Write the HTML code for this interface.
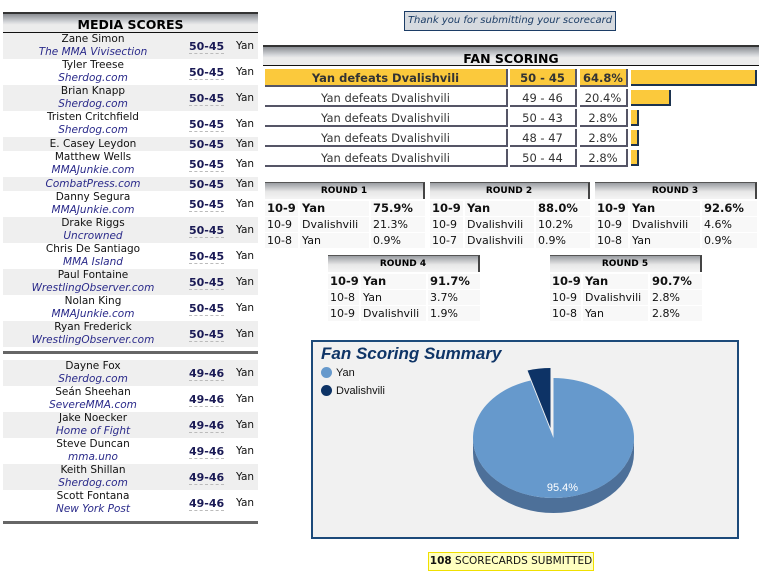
<!DOCTYPE html>
<html><head><meta charset="utf-8">
<style>
*{box-sizing:border-box;margin:0;padding:0}
body{width:771px;height:575px;background:#fff;position:relative;overflow:hidden;font-family:"DejaVu Sans","Liberation Sans",sans-serif;font-size:10.5px;color:#111}
.a{position:absolute}
.hdr{position:absolute;border-top:2px solid #333;border-bottom:1px solid #111;background:linear-gradient(#8a8d92,#d6d8db 45%,#ececec 60%,#ececec);font-weight:bold;text-align:center;color:#000}
.row{position:absolute;left:3px;width:255px;height:26px}
.nm{position:absolute;left:0;width:180px;text-align:center;line-height:13px;font-size:10.5px}
.pub{color:#2a2a8a;font-style:italic}
.sc{position:absolute;left:186px;font-weight:bold;color:#1a1a55;border-bottom:1px dashed #bbb;line-height:13px;font-size:11px}
.yn{position:absolute;left:233px;line-height:13px}
.fr{position:absolute;height:18px;line-height:18px;text-align:center;font-size:11.5px;color:#333;border-right:2px solid #556;border-bottom:2px solid #556}
.bar{position:absolute;height:16px;background:#fbc93c;border-right:2px solid #1c3350;border-bottom:2px solid #1c3350}
.rc{position:absolute;height:15px;line-height:15px;background:#f8f8f8;font-size:11px;padding-left:2px;color:#111}
</style></head><body>
<div class="hdr" style="left:3px;top:12px;width:255px;height:21px;line-height:22px;font-size:12.5px">MEDIA SCORES</div>
<div id="media"></div>
<div class="a" style="left:3px;top:351px;width:255px;height:3px;background:#666"></div>
<div class="a" style="left:3px;top:521px;width:255px;height:3px;background:#666"></div>

<div class="a" style="left:404px;top:11px;width:212px;height:20px;background:#d6dadf;border:1px solid #1c3d66;color:#1c3d66;font-style:italic;font-size:10px;line-height:18px;text-align:center">Thank you for submitting your scorecard</div>

<div class="hdr" style="left:263px;top:45px;width:496px;height:21px;line-height:24px;font-size:12.5px">FAN SCORING</div>
<div id="fan"></div>
<div id="rounds"></div>

<div class="a" style="left:311px;top:340px;width:428px;height:199px;background:#f1f1f1;border:2px solid #1c4a7a">
 <div class="a" style="left:8px;top:2px;font-family:'Liberation Sans',sans-serif;font-weight:bold;font-style:italic;font-size:17px;color:#0f3567">Fan Scoring Summary</div>
 <div class="a" style="left:8px;top:25px;font-family:'Liberation Sans',sans-serif;font-size:11px;line-height:12px"><span style="display:inline-block;width:11px;height:11px;border-radius:50%;background:#6699cc;vertical-align:-2px;margin-right:4px"></span>Yan</div>
 <div class="a" style="left:8px;top:43px;font-family:'Liberation Sans',sans-serif;font-size:11px;line-height:12px"><span style="display:inline-block;width:11px;height:11px;border-radius:50%;background:#0d3366;vertical-align:-2px;margin-right:4px"></span>Dvalishvili</div>
</div>
<svg id="pie" class="a" style="left:0;top:0" width="771" height="575"></svg>

<div class="a" style="left:428px;top:552px;width:166px;height:19px;background:#ffffc0;border:1px solid #f0e000;font-size:10.5px;line-height:17px;text-align:center"><b>108</b> SCORECARDS SUBMITTED</div>

<script>
const mediaNames=["Zane Simon","Tyler Treese","Brian Knapp","Tristen Critchfield","E. Casey Leydon","Matthew Wells","","Danny Segura","Drake Riggs","Chris De Santiago","Paul Fontaine","Nolan King","Ryan Frederick","Dayne Fox","Seán Sheehan","Jake Noecker","Steve Duncan","Keith Shillan","Scott Fontana"];
const mediaPubs=["The MMA Vivisection","Sherdog.com","Sherdog.com","Sherdog.com","","MMAJunkie.com","CombatPress.com","MMAJunkie.com","Uncrowned","MMA Island","WrestlingObserver.com","MMAJunkie.com","WrestlingObserver.com","Sherdog.com","SevereMMA.com","Home of Fight","mma.uno","Sherdog.com","New York Post"];
const mediaScores=["50-45","50-45","50-45","50-45","50-45","50-45","50-45","50-45","50-45","50-45","50-45","50-45","50-45","49-46","49-46","49-46","49-46","49-46","49-46"];
const media=document.getElementById('media');
let y=33,gi=0;
for(let i=0;i<mediaNames.length;i++){
  if(i===13){y=360;gi=1;}
  const two=mediaNames[i]&&mediaPubs[i];
  const h=two?26:14;
  const r=document.createElement('div');r.className='row';
  
  
  r.style.top=y+'px';r.style.height=h+'px';
  r.style.background=((i+gi)%2===0)?'#efefef':'#fff';
  let nm='';
  if(mediaNames[i])nm+=mediaNames[i];
  if(mediaNames[i]&&mediaPubs[i])nm+='<br>';
  if(mediaPubs[i])nm+='<span class="pub">'+mediaPubs[i]+'</span>';
  const mid=two?7:1;
  r.innerHTML='<div class="nm" style="top:'+(two?0:1)+'px">'+nm+'</div><div class="sc" style="top:'+mid+'px">'+mediaScores[i]+'</div><div class="yn" style="top:'+mid+'px">Yan</div>';
  media.appendChild(r);
  y+=h;
}
const fanScores=["50 - 45","49 - 46","50 - 43","48 - 47","50 - 44"];
const fanPcts=[64.8,20.4,2.8,2.8,2.8];
const fan=document.getElementById('fan');
function cell(cls,l,t,w,html,bg,bold){const d=document.createElement('div');d.className=cls;d.style.left=l+'px';d.style.top=t+'px';d.style.width=w+'px';d.innerHTML=html;if(bg)d.style.background=bg;if(bold){d.style.fontWeight='bold';d.style.color='#333';}fan.appendChild(d);return d;}
const barScale=126/Math.max(...fanPcts);
fanPcts.forEach((p,i)=>{
  const t=69+i*20, bg=i===0?'#fbc93c':'', b=i===0;
  let c=cell('fr',265,t,243,'Yan defeats Dvalishvili',bg,b);
  
  
  c=cell('fr',510,t,67,fanScores[i],bg,b);
  
  
  c=cell('fr',580,t,48,p.toFixed(1)+'%',bg,b);
  
  
  const br=document.createElement('div');br.className='bar';
  
  
  br.style.left='631px';br.style.top=(t+1)+'px';br.style.width=Math.max(p*barScale,8)+'px';
  fan.appendChild(br);
});
const roundTitles=["ROUND 1","ROUND 2","ROUND 3","ROUND 4","ROUND 5"];
const roundScores=[["10-9","10-9","10-8"],["10-9","10-9","10-7"],["10-9","10-9","10-8"],["10-9","10-8","10-9"],["10-9","10-9","10-8"]];
const roundFighters=[["Yan","Dvalishvili","Yan"],["Yan","Dvalishvili","Dvalishvili"],["Yan","Dvalishvili","Yan"],["Yan","Yan","Dvalishvili"],["Yan","Dvalishvili","Yan"]];
const roundPcts=[[75.9,21.3,0.9],[88.0,10.2,0.9],[92.6,4.6,0.9],[91.7,3.7,1.9],[90.7,2.8,2.8]];
const boxes=[[265,182,160],[430,182,160],[595,182,162],[328,255,152],[550,255,152]];
const rounds=document.getElementById('rounds');
roundTitles.forEach((tt,i)=>{
  const [l,t,w]=boxes[i];
  const h=document.createElement('div');h.className='hdr';
  
  
  h.style.cssText='left:'+l+'px;top:'+t+'px;width:'+w+'px;height:17px;line-height:17px;font-size:9px;border-top:1px solid #555;border-bottom:none;border-right:2px solid #444;background:linear-gradient(#9a9da2,#e8e8e8 55%,#f4f4f4)';
  h.textContent=tt;rounds.appendChild(h);
  const cw=Math.round(w*0.205), fw=Math.round(w*0.43);
  for(let r=0;r<3;r++){
    const ty=t+19+r*16;
    const vals=[roundScores[i][r],roundFighters[i][r],roundPcts[i][r].toFixed(1)+'%'];
    const xs=[l,l+cw+2,l+cw+fw+4], ws=[cw,fw,w-cw-fw-4];
    vals.forEach((v,k)=>{
      const c=document.createElement('div');c.className='rc';
      
      
      c.style.left=xs[k]+'px';c.style.top=ty+'px';c.style.width=ws[k]+'px';
      if(r===0){c.style.fontWeight='bold';c.style.fontSize='11.5px';}
      c.textContent=v;rounds.appendChild(c);
    });
  }
});
// pie
const pieLabels=["Yan","Dvalishvili"];
const pieValues=[95.4,4.6];
const svg=document.getElementById('pie');
const NS='http://www.w3.org/2000/svg';
const cx=553.5,cy=438,rx=80.5,ry=60,depth=15;
const total=pieValues.reduce((a,b)=>a+b,0);
function pt(a,ox,oy){return [cx+ox+rx*Math.sin(a),cy+oy-ry*Math.cos(a)];}
function mk(tag,attrs,name){const e=document.createElementNS(NS,tag);for(const k in attrs)e.setAttribute(k,attrs[k]);
svg.appendChild(e);return e;}
// angles: Dvalishvili slice counter-clockwise from 12 o'clock
const dA=pieValues[1]/total*2*Math.PI;
const a0=0,a1=2*Math.PI-dA; // Yan from 0 clockwise to a1
// Yan depth (bottom half)
mk('path',{d:'M'+(cx-rx)+','+cy+' A'+rx+','+ry+' 0 0,0 '+(cx+rx)+','+cy+' L'+(cx+rx)+','+(cy+depth)+' A'+rx+','+ry+' 0 0,1 '+(cx-rx)+','+(cy+depth)+' Z',fill:'#4d7099'},'pie-yan-side');
let p0=pt(a0,0,0),p1=pt(a1,0,0);
mk('path',{d:'M'+cx+','+cy+' L'+p0[0]+','+p0[1]+' A'+rx+','+ry+' 0 '+((a1-a0)>Math.PI?1:0)+',1 '+p1[0]+','+p1[1]+' Z',fill:'#6699cc'},'pie-slice-yan');
const ox=-3,oy=-10;
const q0=pt(a1,ox,oy),q1=pt(2*Math.PI,ox,oy);
mk('path',{d:'M'+(cx+ox)+','+(cy+oy)+' L'+q0[0]+','+q0[1]+' A'+rx+','+ry+' 0 0,1 '+q1[0]+','+q1[1]+' Z',fill:'#0d3366'},'pie-slice-dvalishvili');
const lab=mk('text',{x:cx+9,y:cy+53,'text-anchor':'middle',fill:'#fff','font-family':'Liberation Sans, sans-serif','font-size':'11'},'pie-label-yan');
lab.textContent=pieValues[0].toFixed(1)+'%';
</script>
</body></html>
